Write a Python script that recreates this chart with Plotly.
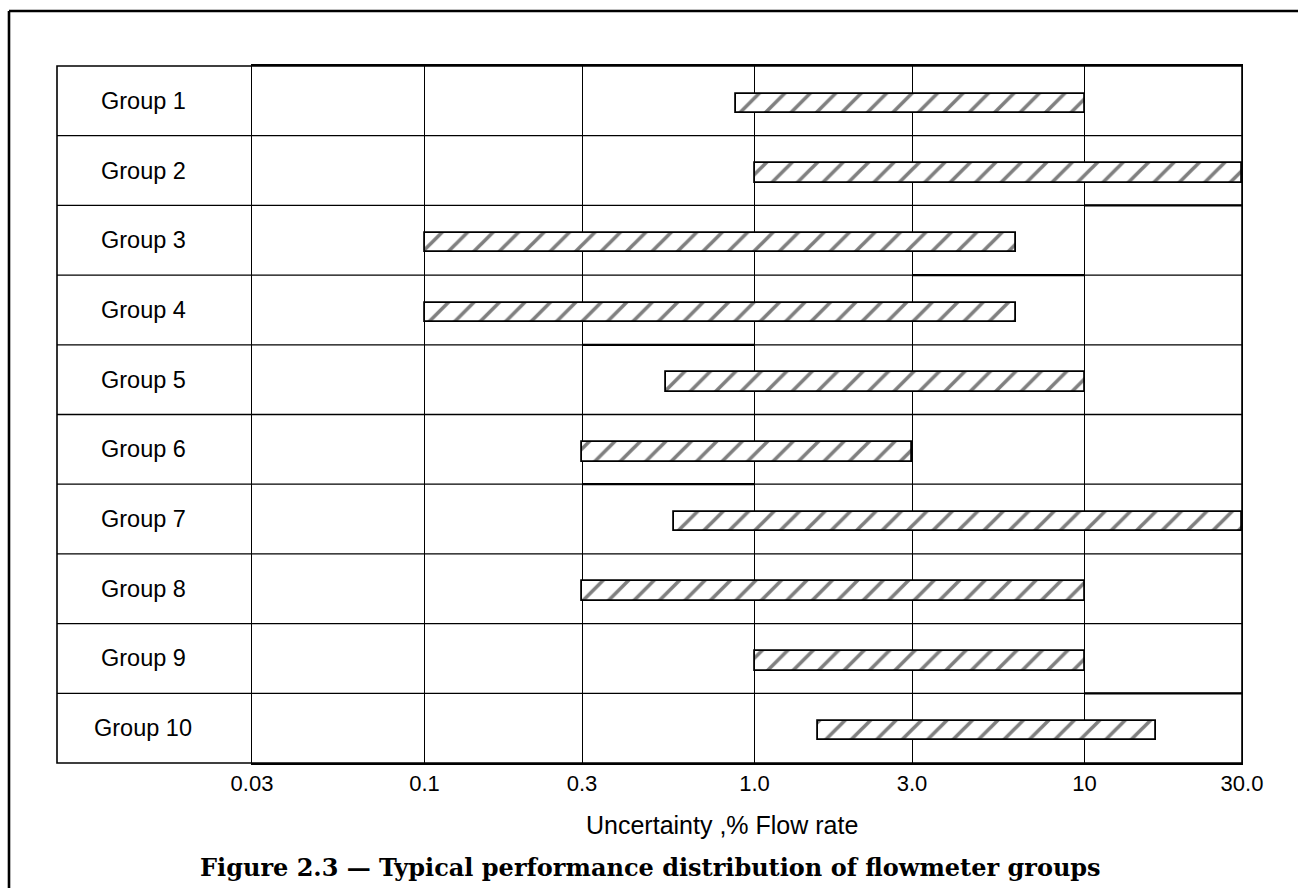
import math
import plotly.graph_objects as go

# ---------------- data ----------------
groups = ["Group 1", "Group 2", "Group 3", "Group 4", "Group 5",
          "Group 6", "Group 7", "Group 8", "Group 9", "Group 10"]
low = [0.88, 1.0, 0.1, 0.1, 0.54, 0.3, 0.57, 0.3, 1.0, 1.56]
high = [10.0, 30.0, 6.2, 6.2, 10.0, 3.0, 30.0, 10.0, 10.0, 16.5]

tick_vals = [0.03, 0.1, 0.3, 1.0, 3.0, 10.0, 30.0]
tick_text = ["0.03", "0.1", "0.3", "1.0", "3.0", "10", "30.0"]

x_title = "Uncertainty ,% Flow rate"
caption = "Figure 2.3 \u2014 Typical performance distribution of flowmeter groups"

# heavier row-line segments seen in the drawing: (row boundary, from, to)
heavy_rows = [1.5, 2.5, 3.5, 5.5, 8.5]
heavy_from = [10.0, 3.0, 0.3, 0.3, 10.0]
heavy_to = [30.0, 10.0, 1.0, 1.0, 30.0]

# ---------------- layout geometry ----------------
W, H = 1298, 888
L, R, T, B = 252, 56, 66, 125
PW = W - L - R
PH = H - T - B


def px_x(px):
    return (px - L) / PW


def px_y(py):
    return (H - B - py) / PH


INK = "#000000"
TECH = "Liberation Sans, Arial, DejaVu Sans, sans-serif"

fig = go.Figure()
fig.add_trace(go.Bar(
    y=groups,
    x=[h - l for l, h in zip(low, high)],
    base=low,
    orientation="h",
    width=0.28,
    offset=-0.105,
    marker=dict(
        color="white",
        line=dict(color=INK, width=1.8),
        pattern=dict(shape="/", fgcolor=INK, bgcolor="white", size=18, solidity=0.2),
    ),
    hoverinfo="skip",
    showlegend=False,
))

shapes = []
# table outline including label column
shapes.append(dict(type="rect", xref="paper", yref="paper",
                   x0=px_x(57), x1=1, y0=0, y1=1,
                   line=dict(color=INK, width=1.6), layer="above"))
# row separators
for k in range(1, len(groups)):
    shapes.append(dict(type="line", xref="paper", yref="y",
                       x0=px_x(57), x1=1, y0=k - 0.5, y1=k - 0.5,
                       line=dict(color=INK, width=1.3), layer="above"))
# heavier segments
for yb, a, b in zip(heavy_rows, heavy_from, heavy_to):
    shapes.append(dict(type="line", xref="x", yref="y",
                       x0=a, x1=b, y0=yb, y1=yb,
                       line=dict(color=INK, width=2.2), layer="above"))
# page frame (left and top)
shapes.append(dict(type="line", xref="paper", yref="paper",
                   x0=px_x(9), x1=px_x(9), y0=px_y(11), y1=px_y(900),
                   line=dict(color=INK, width=2.6)))
shapes.append(dict(type="line", xref="paper", yref="paper",
                   x0=px_x(9), x1=px_x(1310), y0=px_y(11), y1=px_y(11),
                   line=dict(color=INK, width=2.6)))

annotations = []
for g in groups:
    annotations.append(dict(x=px_x(143), xref="paper", y=g, yref="y",
                            text=g, showarrow=False, xanchor="center", yanchor="middle",
                            font=dict(family=TECH, size=23.5, color=INK)))
annotations.append(dict(x=px_x(722), xref="paper", y=px_y(825), yref="paper",
                        text=x_title, showarrow=False, xanchor="center", yanchor="middle",
                        font=dict(family=TECH, size=25, color=INK)))
annotations.append(dict(x=px_x(650), xref="paper", y=px_y(867), yref="paper",
                        text="<b>" + caption + "</b>", showarrow=False,
                        xanchor="center", yanchor="middle",
                        font=dict(family="DejaVu Serif, Liberation Serif, serif", size=24, color=INK)))

fig.update_layout(
    width=W, height=H,
    margin=dict(l=L, r=R, t=T, b=B, pad=0),
    paper_bgcolor="white", plot_bgcolor="white",
    bargap=0,
    xaxis=dict(type="log", range=[math.log10(tick_vals[0]), math.log10(tick_vals[-1])],
               tickmode="array", tickvals=tick_vals, ticktext=tick_text,
               showgrid=True, gridcolor=INK, gridwidth=1.3,
               showline=True, linecolor=INK, linewidth=1.6, mirror=True,
               ticks="", ticklabelstandoff=0, zeroline=False,
               tickfont=dict(family=TECH, size=22, color=INK)),
    yaxis=dict(type="category", categoryorder="array", categoryarray=groups,
               range=[len(groups) - 0.5, -0.5],
               showticklabels=False, showgrid=False, zeroline=False,
               showline=True, linecolor=INK, linewidth=1.4, mirror=True),
    shapes=shapes,
    annotations=annotations,
    showlegend=False,
)

fig.write_html("out.html")
